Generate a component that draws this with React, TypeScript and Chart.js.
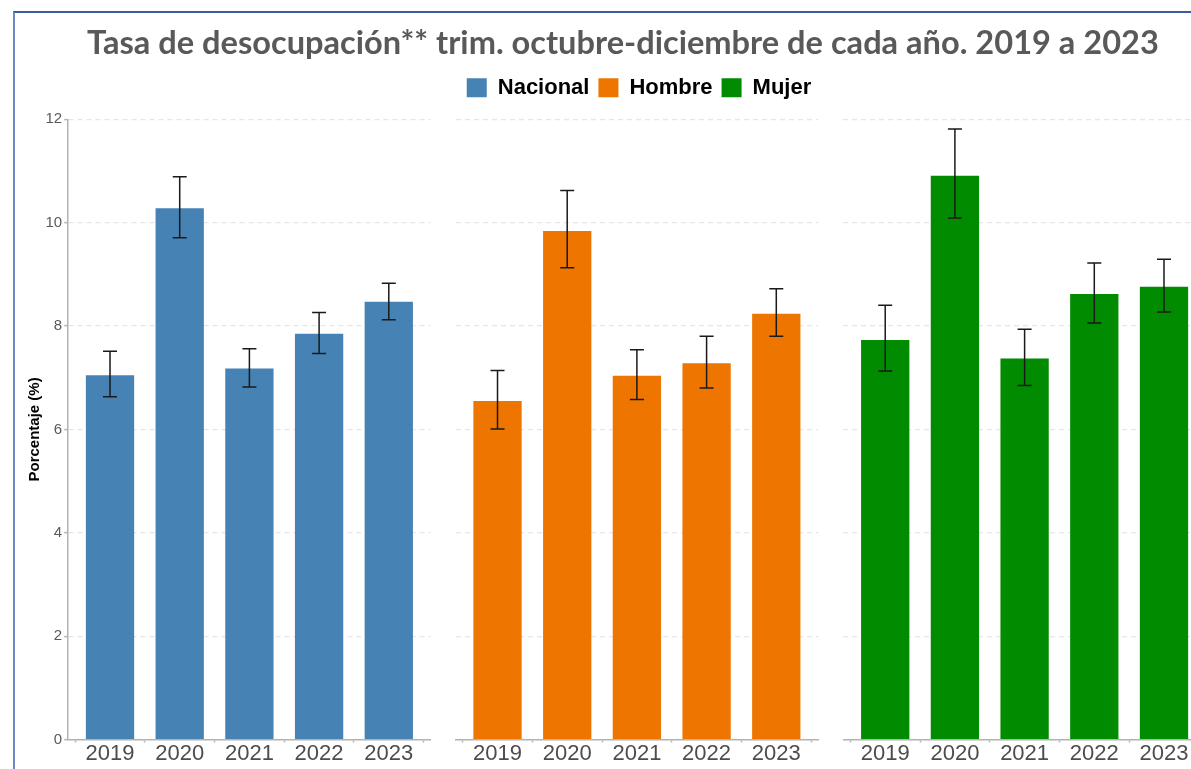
import React, { useEffect, useRef } from 'react';
import { Chart, registerables } from 'chart.js';

Chart.register(...registerables);

// ---------------- data ----------------
const years = ['2019', '2020', '2021', '2022', '2023'];
const seriesNames = ['Nacional', 'Hombre', 'Mujer'];
const seriesColors = ['#4682B4', '#EE7600', '#008B00'];

const nacional = [7.05, 10.28, 7.18, 7.85, 8.47];
const nacionalLow = [6.63, 9.71, 6.82, 7.47, 8.12];
const nacionalHigh = [7.51, 10.89, 7.56, 8.26, 8.83];

const hombre = [6.55, 9.84, 7.04, 7.28, 8.24];
const hombreLow = [6.01, 9.13, 6.58, 6.8, 7.8];
const hombreHigh = [7.14, 10.62, 7.54, 7.8, 8.72];

const mujer = [7.73, 10.91, 7.37, 8.62, 8.76];
const mujerLow = [7.13, 10.09, 6.85, 8.06, 8.27];
const mujerHigh = [8.4, 11.81, 7.94, 9.22, 9.29];

const yTickValues = [0, 2, 4, 6, 8, 10, 12];
const titleText = 'Tasa de desocupación** trim. octubre-diciembre de cada año. 2019 a 2023';
const yAxisTitle = 'Porcentaje (%)';

// ---------------- layout ----------------
const PANEL_TOP = 100;
const PANEL_H = 670;
const PAD_TOP = 19.3;
const X_AXIS_H = 30.5;

const panelSeries = [
  { values: nacional, low: nacionalLow, high: nacionalHigh },
  { values: hombre, low: hombreLow, high: hombreHigh },
  { values: mujer, low: mujerLow, high: mujerHigh },
];
const panelBoxes = [
  { left: 0, width: 432, padL: 16, padR: 1.4, yWidth: 52.2, showY: true },
  { left: 450, width: 372, padL: 5.7, padR: 3.9, yWidth: 0, showY: false },
  { left: 838, width: 372, padL: 5.4, padR: 4.2, yWidth: 0, showY: false },
];

const AXIS_GREY = '#b3b3b3';
const GRID_GREY = '#e6e6e6';
const SANS = "'Liberation Sans', Arial, sans-serif";

const errorBarPlugin = {
  id: 'errorBars',
  afterDatasetsDraw(chart: any) {
    const { ctx } = chart;
    const yScale = chart.scales.y;
    chart.data.datasets.forEach((ds: any, di: number) => {
      if (!ds.errLow) return;
      const meta = chart.getDatasetMeta(di);
      meta.data.forEach((bar: any, i: number) => {
        const x = bar.x;
        const yl = yScale.getPixelForValue(ds.errLow[i]);
        const yh = yScale.getPixelForValue(ds.errHigh[i]);
        ctx.save();
        ctx.strokeStyle = '#1a1a1a';
        ctx.lineWidth = 1.5;
        ctx.beginPath();
        ctx.moveTo(x, yl);
        ctx.lineTo(x, yh);
        ctx.moveTo(x - 7, yh);
        ctx.lineTo(x + 7, yh);
        ctx.moveTo(x - 7, yl);
        ctx.lineTo(x + 7, yl);
        ctx.stroke();
        ctx.restore();
      });
    });
  },
};

function makePanel(canvas: HTMLCanvasElement, p: number) {
  const s = panelSeries[p];
  const b = panelBoxes[p];
  return new Chart(canvas, {
    type: 'bar',
    data: {
      datasets: [
        {
          label: seriesNames[p],
          data: years.map((_, i) => ({ x: i + 1, y: s.values[i] })) as any,
          backgroundColor: seriesColors[p],
          borderWidth: 0,
          categoryPercentage: 1,
          barPercentage: 0.693,
          errLow: s.low,
          errHigh: s.high,
        } as any,
      ],
    },
    options: {
      responsive: false,
      animation: false,
      devicePixelRatio: 1,
      layout: { padding: { top: PAD_TOP, bottom: 0, left: b.padL, right: b.padR } },
      plugins: { legend: { display: false }, title: { display: false }, tooltip: { enabled: false } },
      scales: {
        x: {
          type: 'linear',
          offset: false,
          min: 0.4,
          max: 5.6,
          afterBuildTicks: (axis: any) => {
            axis.ticks = years.map((_, i) => ({ value: i + 1 }));
          },
          afterFit: (axis: any) => {
            axis.height = X_AXIS_H;
          },
          ticks: {
            autoSkip: false,
            maxRotation: 0,
            padding: 0,
            color: '#4d4d4d',
            font: { family: SANS, size: 22, lineHeight: 1 },
            callback: (v: any) => years[Math.round(Number(v)) - 1],
          },
          grid: {
            display: true,
            drawOnChartArea: false,
            drawTicks: true,
            tickLength: 3,
            tickColor: AXIS_GREY,
            tickWidth: 1.5,
          },
          border: { display: true, color: AXIS_GREY, width: 1.5 },
        },
        y: {
          min: 0,
          max: 12,
          afterBuildTicks: (axis: any) => {
            axis.ticks = yTickValues.map((v) => ({ value: v }));
          },
          afterFit: (axis: any) => {
            axis.width = b.yWidth;
          },
          ticks: {
            display: b.showY,
            padding: 2,
            color: '#595959',
            font: { family: SANS, size: 15 },
          },
          title: {
            display: b.showY,
            text: yAxisTitle,
            color: '#000',
            font: { family: SANS, size: 15, weight: 'bold', lineHeight: 1.2 },
            padding: { top: 10, bottom: 0 },
          },
          grid: {
            display: true,
            color: GRID_GREY,
            lineWidth: 1.2,
            drawTicks: b.showY,
            tickLength: 4,
            tickColor: AXIS_GREY,
            tickWidth: 1.5,
            tickBorderDash: [],
          },
          border: { display: b.showY, color: AXIS_GREY, width: 1.5, dash: [5, 4] },
        },
      },
    },
    plugins: [errorBarPlugin],
  } as any);
}

function makeHeader(canvas: HTMLCanvasElement) {
  return new Chart(canvas, {
    type: 'bar',
    data: {
      labels: [],
      datasets: seriesNames.map((n, i) => ({
        label: n,
        data: [],
        backgroundColor: seriesColors[i],
        borderWidth: 0,
      })),
    },
    options: {
      responsive: false,
      animation: false,
      devicePixelRatio: 1,
      layout: { padding: { top: 0, left: 87, right: 0, bottom: 0 } },
      scales: { x: { display: false }, y: { display: false } },
      plugins: {
        tooltip: { enabled: false },
        title: {
          display: true,
          text: titleText,
          align: 'start',
          color: '#595959',
          font: { family: "Lato, 'Open Sans', sans-serif", size: 32.6, weight: 'bold', lineHeight: 1.2 },
          padding: { top: 24, bottom: 4.6 },
        },
        legend: {
          display: true,
          position: 'top',
          align: 'center',
          labels: {
            boxWidth: 20,
            boxHeight: 19,
            padding: 9,
            color: '#000',
            font: { family: SANS, size: 22, weight: 'bold' },
          },
        },
      },
    },
  } as any);
}

export default function App() {
  const headerRef = useRef<HTMLCanvasElement | null>(null);
  const p0 = useRef<HTMLCanvasElement | null>(null);
  const p1 = useRef<HTMLCanvasElement | null>(null);
  const p2 = useRef<HTMLCanvasElement | null>(null);
  const panelRefs = [p0, p1, p2];

  useEffect(() => {
    const charts: Chart[] = [];
    if (headerRef.current) charts.push(makeHeader(headerRef.current));
    panelRefs.forEach((r, i) => {
      if (r.current) charts.push(makePanel(r.current, i));
    });
    return () => charts.forEach((c) => c.destroy());
  }, []);

  return (
    <div
      style={{
        position: 'fixed',
        left: 0,
        top: 0,
        width: 1191,
        height: 769,
        overflow: 'hidden',
        background: '#ffffff',
      }}
    >
      <div
        style={{
          position: 'absolute',
          left: 13,
          top: 11,
          width: 1300,
          height: 900,
          borderLeft: '2px solid #6f89c2',
          borderTop: '2px solid #3a5aa3',
        }}
      />
      <canvas
        ref={headerRef}
        width={1191}
        height={112}
        style={{ position: 'absolute', left: 0, top: 0, width: 1191, height: 112 }}
      />
      {panelBoxes.map((b, i) => (
        <canvas
          key={i}
          ref={panelRefs[i]}
          width={b.width}
          height={PANEL_H}
          style={{ position: 'absolute', left: b.left, top: PANEL_TOP, width: b.width, height: PANEL_H }}
        />
      ))}
    </div>
  );
}
